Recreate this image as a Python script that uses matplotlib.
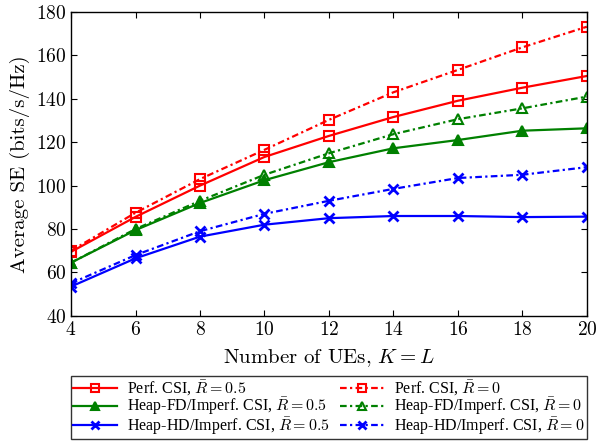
import matplotlib.pyplot as plt

plt.rcParams['font.family'] = ['cmr10', 'DejaVu Serif']
plt.rcParams['mathtext.fontset'] = 'cm'
plt.rcParams['axes.formatter.use_mathtext'] = True

num_ues = [4, 6, 8, 10, 12, 14, 16, 18, 20]

perf_r05 = [69.5, 85.6, 100.0, 113.2, 122.9, 131.6, 139.1, 145.1, 150.5]
perf_r0 = [70.0, 87.5, 103.0, 116.5, 130.3, 143.0, 153.3, 163.7, 173.2]
fd_r05 = [64.5, 79.5, 92.0, 102.5, 110.8, 117.2, 121.0, 125.3, 126.4]
fd_r0 = [64.5, 80.0, 93.0, 105.0, 114.9, 123.7, 130.6, 135.6, 141.0]
hd_r05 = [53.5, 66.5, 76.5, 82.0, 85.0, 86.0, 86.0, 85.5, 85.7]
hd_r0 = [55.0, 68.0, 79.0, 87.0, 93.0, 98.5, 103.5, 105.0, 108.5]

labels = [r'Perf. CSI, $\bar{R} = 0.5$',
          r'Perf. CSI, $\bar{R} = 0$',
          r'Heap-FD/Imperf. CSI, $\bar{R} = 0.5$',
          r'Heap-FD/Imperf. CSI, $\bar{R} = 0$',
          r'Heap-HD/Imperf. CSI, $\bar{R} = 0.5$',
          r'Heap-HD/Imperf. CSI, $\bar{R} = 0$']

fig = plt.figure(figsize=(5.97, 4.43), dpi=100)
ax = fig.add_axes([0.119, 0.287, 0.864, 0.686])

lw = 1.6
dd = (3, 1.5, 1, 1.5)
ax.plot(num_ues, perf_r05, '-', color='red', lw=lw, marker='s', ms=7,
        mfc='none', mew=1.5, label=labels[0])
ax.plot(num_ues, perf_r0, '-.', color='red', lw=lw, marker='s', ms=7,
        mfc='none', mew=1.5, dashes=dd, label=labels[1])
ax.plot(num_ues, fd_r05, '-', color='green', lw=lw, marker='^', ms=7,
        mfc='green', mew=1.5, label=labels[2])
ax.plot(num_ues, fd_r0, '-.', color='green', lw=lw, marker='^', ms=7,
        mfc='none', mew=1.5, dashes=dd, label=labels[3])
ax.plot(num_ues, hd_r05, '-', color='blue', lw=lw, marker='x', ms=7,
        mew=2, label=labels[4])
ax.plot(num_ues, hd_r0, '-.', color='blue', lw=lw, marker='x', ms=7,
        mew=2, dashes=dd, label=labels[5])

ax.set_xlim(4, 20)
ax.set_ylim(40, 180)
ax.set_xticks(range(4, 21, 2))
ax.set_yticks(range(40, 181, 20))
ax.tick_params(direction='in', top=True, right=True, labelsize=14, length=4)
for s in ax.spines.values():
    s.set_linewidth(1.0)
ax.set_xlabel(r'Number of UEs, $K = L$', fontsize=15, labelpad=6)
ax.set_ylabel('Average SE (bits/s/Hz)', fontsize=15, labelpad=4)

handles, labs = ax.get_legend_handles_labels()
order = [0, 2, 4, 1, 3, 5]
leg = fig.legend([handles[i] for i in order], [labs[i] for i in order],
                 loc='upper left', bbox_to_anchor=(0.119, 0.151, 0.864, 0.0),
                 mode='expand', ncol=2, fancybox=False, edgecolor='black',
                 prop={'family': ['Liberation Serif'], 'size': 11.5},
                 handlelength=2.75, borderpad=0.15, labelspacing=-0.12,
                 handletextpad=0.6, columnspacing=0.5, markerscale=0.75,
                 borderaxespad=0)
leg.get_frame().set_linewidth(1.0)

fig.savefig('out.png', dpi=100)
